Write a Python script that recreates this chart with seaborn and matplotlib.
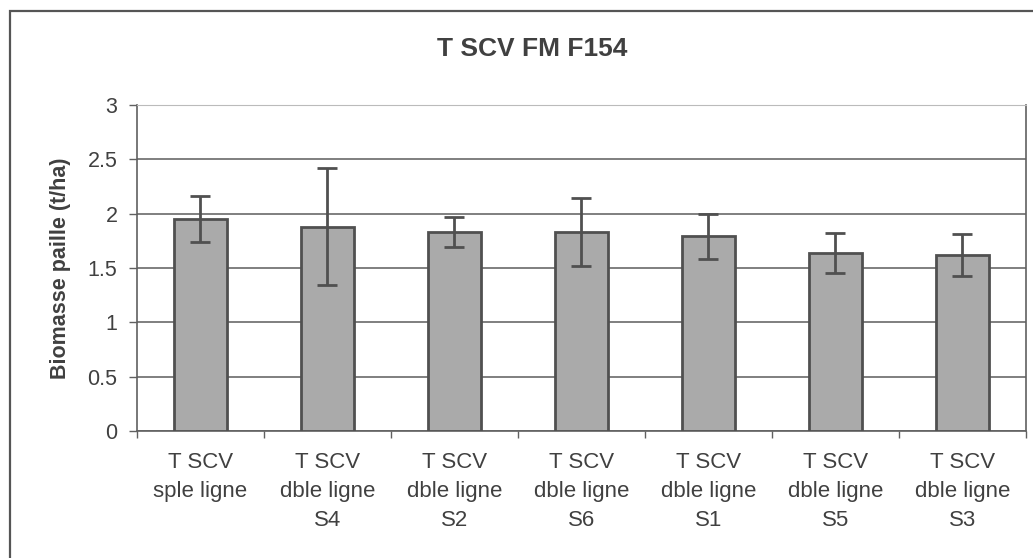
import seaborn as sns
import pandas as pd
import numpy as np
import matplotlib.pyplot as plt
from matplotlib.patches import Rectangle

# data
categories = ["T SCV\nsple ligne", "T SCV\ndble ligne\nS4", "T SCV\ndble ligne\nS2",
              "T SCV\ndble ligne\nS6", "T SCV\ndble ligne\nS1", "T SCV\ndble ligne\nS5",
              "T SCV\ndble ligne\nS3"]
biomasse = [1.95, 1.88, 1.83, 1.83, 1.79, 1.64, 1.62]
ecart = [0.21, 0.54, 0.14, 0.31, 0.21, 0.185, 0.19]
yticks = [0, 0.5, 1, 1.5, 2, 2.5, 3]

df = pd.DataFrame({"traitement": categories, "biomasse": biomasse})

sns.set_style("white")
plt.rcParams['font.family'] = ['Liberation Sans', 'DejaVu Sans']

txt = "#404040"
fig = plt.figure(figsize=(10.33, 5.58), dpi=100)
ax = fig.add_axes([0.1326, 0.2276, 0.8606, 0.5842])

sns.barplot(data=df, x="traitement", y="biomasse", color="#aaaaaa", width=0.42,
            edgecolor="#505050", linewidth=2, saturation=1, errorbar=None, ax=ax, zorder=3)
ax.errorbar(range(len(categories)), biomasse, yerr=ecart, fmt="none", ecolor="#505050",
            elinewidth=2, capsize=7, capthick=2, zorder=4)

ax.set_ylim(0, 3)
ax.set_xlim(-0.5, len(categories) - 0.5)
ax.set_yticks(yticks)
ax.set_yticklabels([f"{v:g}" for v in yticks])
ax.yaxis.grid(True, color="#6a6a6a", linewidth=1.2, zorder=0)
ax.set_axisbelow(True)

ax.set_xticks(np.arange(-0.5, len(categories)), minor=True)
ax.tick_params(axis="x", which="major", length=0, pad=15, labelsize=16, labelcolor=txt)
ax.tick_params(axis="x", which="minor", length=5, width=1, color="#606060", bottom=True)
ax.tick_params(axis="y", length=6, width=1, color="#606060", left=True, pad=8,
               labelsize=15.5, labelcolor=txt)
for lab in ax.get_xticklabels():
    lab.set_linespacing(1.5)

for side in ["left", "bottom", "right"]:
    ax.spines[side].set_color("#606060")
    ax.spines[side].set_linewidth(1.2)
ax.spines["top"].set_color("#bbbbbb")

ax.set_xlabel("")
ax.set_ylabel("Biomasse paille (t/ha)", fontsize=15.5, fontweight="bold", color=txt, labelpad=12)
fig.text(0.515, 0.913, "T SCV FM F154", ha="center", va="center", fontsize=19,
         fontweight="bold", color=txt)

fig.patches.append(Rectangle((10 / 1033, -0.1), 1.1, 1.1 - 11 / 558,
                             transform=fig.transFigure, fill=False, edgecolor="#555555",
                             linewidth=1.6))

fig.savefig("out.png", dpi=100)
